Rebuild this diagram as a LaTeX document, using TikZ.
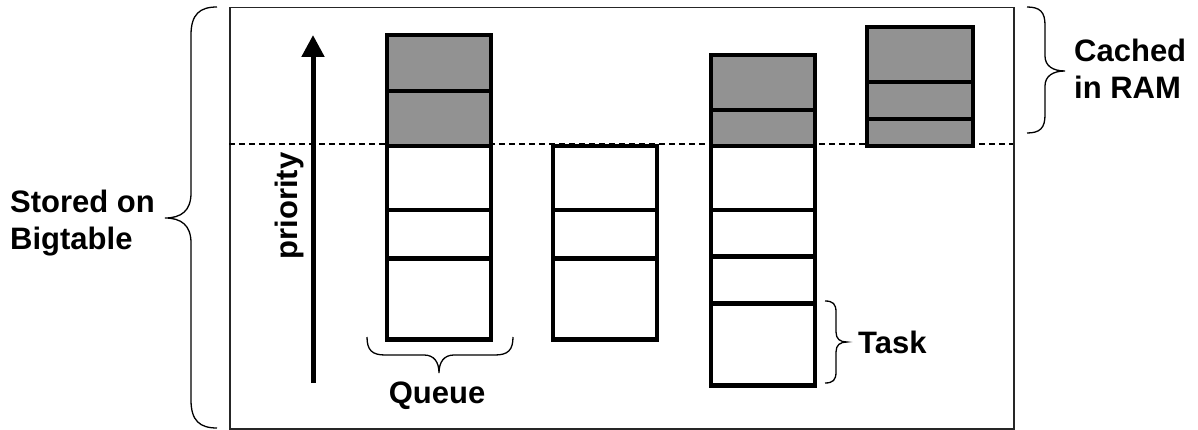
\documentclass[tikz,border=0pt]{standalone}
\usepackage{fontspec}
\setmainfont{Liberation Sans}
\usetikzlibrary{arrows.meta}
\definecolor{cachegray}{HTML}{929292}
\tikzset{
  cell/.style={draw=black, line width=4.5pt, minimum width=104pt, inner sep=0pt, anchor=north, fill=white},
  gcell/.style={cell, fill=cachegray},
  lbl/.style={inner sep=0pt, font=\fontsize{31}{37}\selectfont\bfseries},
  bracestyle/.style={draw=black, line width=1.3pt},
}
\begin{document}
\begin{tikzpicture}[x=1pt,y=-1pt]
\useasboundingbox (0,0) rectangle (1198,430);
% frame
\node[draw=black!85, line width=1.5pt, minimum width=784pt, minimum height=421pt, inner sep=0pt, anchor=north west] (frame) at (229,7) {};
\draw[line width=1.3pt, dash pattern=on 6pt off 4pt] (229,144) -- (1013,144);
% priority arrow
\coordinate (arrtail) at (313,383);
\coordinate (arrtip) at (313,35);
\draw[line width=5pt, -{Triangle[length=22pt,width=22pt]}] (arrtail) -- (arrtip);
\node[lbl, rotate=90, anchor=base] (prio) at (297,206) {priority};
% queue 1
\node[gcell, minimum height=56pt] (q1a) at (439,33) {};
\node[gcell, minimum height=55pt] (q1b) at (439,89) {};
\node[cell, minimum height=64pt] (q1c) at (439,144) {};
\node[cell, minimum height=48pt] (q1d) at (439,208) {};
\node[cell, minimum height=81pt] (q1e) at (439,256) {};
% queue 2
\node[cell, minimum height=64pt, minimum width=104pt] (q2a) at (605,144) {};
\node[cell, minimum height=48pt] (q2b) at (605,208) {};
\node[cell, minimum height=81pt] (q2c) at (605,256) {};
% queue 3
\node[gcell, minimum height=55pt] (q3a) at (763,53) {};
\node[gcell, minimum height=36pt] (q3b) at (763,108) {};
\node[cell, minimum height=64pt] (q3c) at (763,144) {};
\node[cell, minimum height=46pt] (q3d) at (763,208) {};
\node[cell, minimum height=47pt] (q3e) at (763,254) {};
\node[cell, minimum height=82pt] (q3f) at (763,301) {};
% queue 4
\node[gcell, minimum height=55pt, minimum width=106pt] (q4a) at (920,25) {};
\node[gcell, minimum height=37pt, minimum width=106pt] (q4b) at (920,80) {};
\node[gcell, minimum height=27pt, minimum width=106pt] (q4c) at (920,117) {};
% braces
\draw[bracestyle] (217,7) .. controls (200,7) and (191,14) .. (191,35) -- (191,193)
  .. controls (191,211) and (181,218) .. (165,218)
  .. controls (181,218) and (191,225) .. (191,243) -- (191,400)
  .. controls (191,421) and (200,428) .. (217,428);
\draw[bracestyle] (1027,7) .. controls (1040,7) and (1045,12) .. (1045,25) -- (1045,56)
  .. controls (1045,66) and (1053,71) .. (1065,71)
  .. controls (1053,71) and (1045,76) .. (1045,86) -- (1045,115)
  .. controls (1045,128) and (1040,133) .. (1027,133);
\draw[bracestyle] (825,301) .. controls (833,301) and (836,304) .. (836,312) -- (836,332)
  .. controls (836,339) and (840,342) .. (847,342)
  .. controls (840,342) and (836,345) .. (836,352) -- (836,372)
  .. controls (836,380) and (833,383) .. (825,383);
\draw[bracestyle] (367,337) .. controls (367,350) and (372,355) .. (385,355) -- (424,355)
  .. controls (434,355) and (439,362) .. (439,373)
  .. controls (439,362) and (444,355) .. (454,355) -- (495,355)
  .. controls (508,355) and (513,350) .. (513,337);
% labels
\node[lbl, align=left, anchor=west] (stored) at (10,223) {Stored on\\Bigtable};
\node[lbl, align=left, anchor=west] (cached) at (1074,69) {Cached\\in RAM};
\node[lbl, anchor=base] (queue) at (437,403) {Queue};
\node[lbl, anchor=base west] (task) at (858,353) {Task};
\end{tikzpicture}
\end{document}
